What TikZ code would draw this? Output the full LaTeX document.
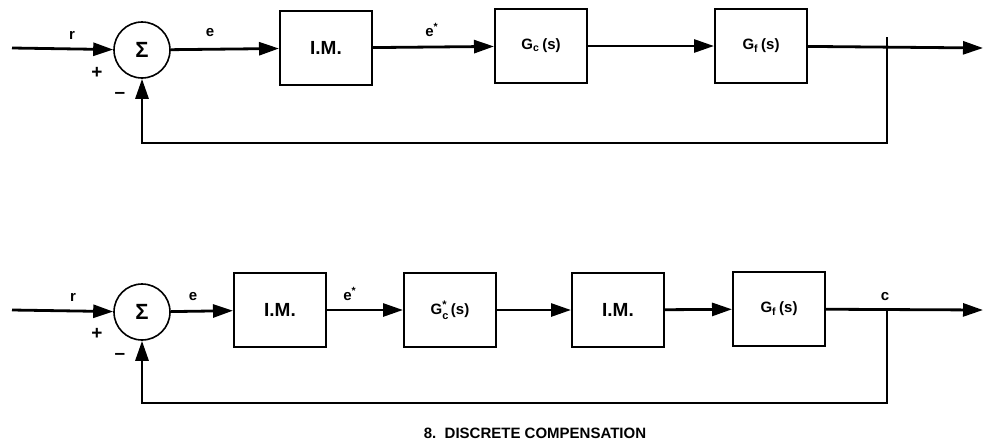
\documentclass[tikz,border=0pt]{standalone}
\usepackage{fontspec}
\setmainfont{Liberation Sans}
\usetikzlibrary{arrows.meta}

\begin{document}
\begin{tikzpicture}[
    x=0.5pt, y=-0.5pt,
    >={Triangle[length=10pt,width=6.5pt]},
    blk/.style={draw, line width=1pt, minimum width=46pt, minimum height=37pt,
                inner sep=0pt, font=\fontsize{7.5}{9}\selectfont\bfseries},
    imtext/.style={font=\fontsize{9.5}{11}\selectfont\bfseries},
    sumnode/.style={draw, circle, line width=0.8pt, minimum size=28pt, inner sep=0pt,
                font=\fontsize{11}{13}\selectfont\bfseries},
    sig/.style={font=\fontsize{7.5}{9}\selectfont\bfseries, inner sep=0pt},
    pm/.style={font=\fontsize{9.5}{10}\selectfont\bfseries, inner sep=0pt},
    wire/.style={line width=1.4pt},
]
\useasboundingbox (0,0) rectangle (983,445);

% ---------- continuous compensation ----------
\coordinate (in1) at (12,48);
\node[sumnode] (sum1) at (142,50) {Σ};
\node[blk, imtext] (im1) at (326,48) {I.M.};
\node[blk] (gc1) at (541,46) {G\textsubscript{c}\,(s)};
\node[blk] (gf1) at (761,46) {G\textsubscript{f}\,(s)};
\coordinate (top1) at (887,37);
\coordinate (fb1)  at (887,143);
\coordinate (out1) at (983,48);

\draw[wire,->] (in1) -- (sum1);
\draw[wire,->] (sum1) -- (im1);
\draw[wire,->] (im1) -- (gc1);
\draw[wire,->] (gc1) -- (gf1);
\draw[wire,->] (gf1) -- (out1);
\draw[wire,->] (top1) -- (fb1) -| (sum1.south);

\node[sig] (r1)  at (72,35)  {r};
\node[sig] (e1)  at (210,33) {e};
\node[sig] (es1) at (432,30) {e\textsuperscript{*}};
\node[pm]  (p1)  at (97,73)  {+};
\node[pm]  (m1)  at (120,95) {–};

% ---------- discrete compensation ----------
\coordinate (in2) at (12,310);
\node[sumnode] (sum2) at (142,312) {Σ};
\node[blk, imtext] (im2) at (280,310) {I.M.};
\node[blk] (gc2) at (450,310)
  {G\rlap{\raisebox{3.2pt}{\fontsize{5.5}{6}\selectfont *}}\raisebox{-2.2pt}{\fontsize{5.5}{6}\selectfont c}\,(s)};
\node[blk, imtext] (im3) at (618,310) {I.M.};
\node[blk] (gf2) at (779,309) {G\textsubscript{f}\,(s)};
\coordinate (tap2) at (887,310);
\coordinate (fb2)  at (887,403);
\coordinate (out2) at (983,310);

\draw[wire,->] (in2) -- (sum2);
\draw[wire,->] (sum2) -- (im2);
\draw[wire,->] (im2) -- (gc2);
\draw[wire,->] (gc2) -- (im3);
\draw[wire,->] (im3) -- (gf2);
\draw[wire,->] (gf2) -- (out2);
\draw[wire,->] (tap2) -- (fb2) -| (sum2.south);

\node[sig] (r2)  at (73,297)  {r};
\node[sig] (e2)  at (193,297) {e};
\node[sig] (es2) at (350,294) {e\textsuperscript{*}};
\node[sig] (c2)  at (885,297) {c};
\node[pm]  (p2)  at (97,334)  {+};
\node[pm]  (m2)  at (120,356) {–};

\node[font=\fontsize{7.5}{9}\selectfont\bfseries] (cap) at (535,433)
  {8.\ \ DISCRETE COMPENSATION};
\end{tikzpicture}
\end{document}
